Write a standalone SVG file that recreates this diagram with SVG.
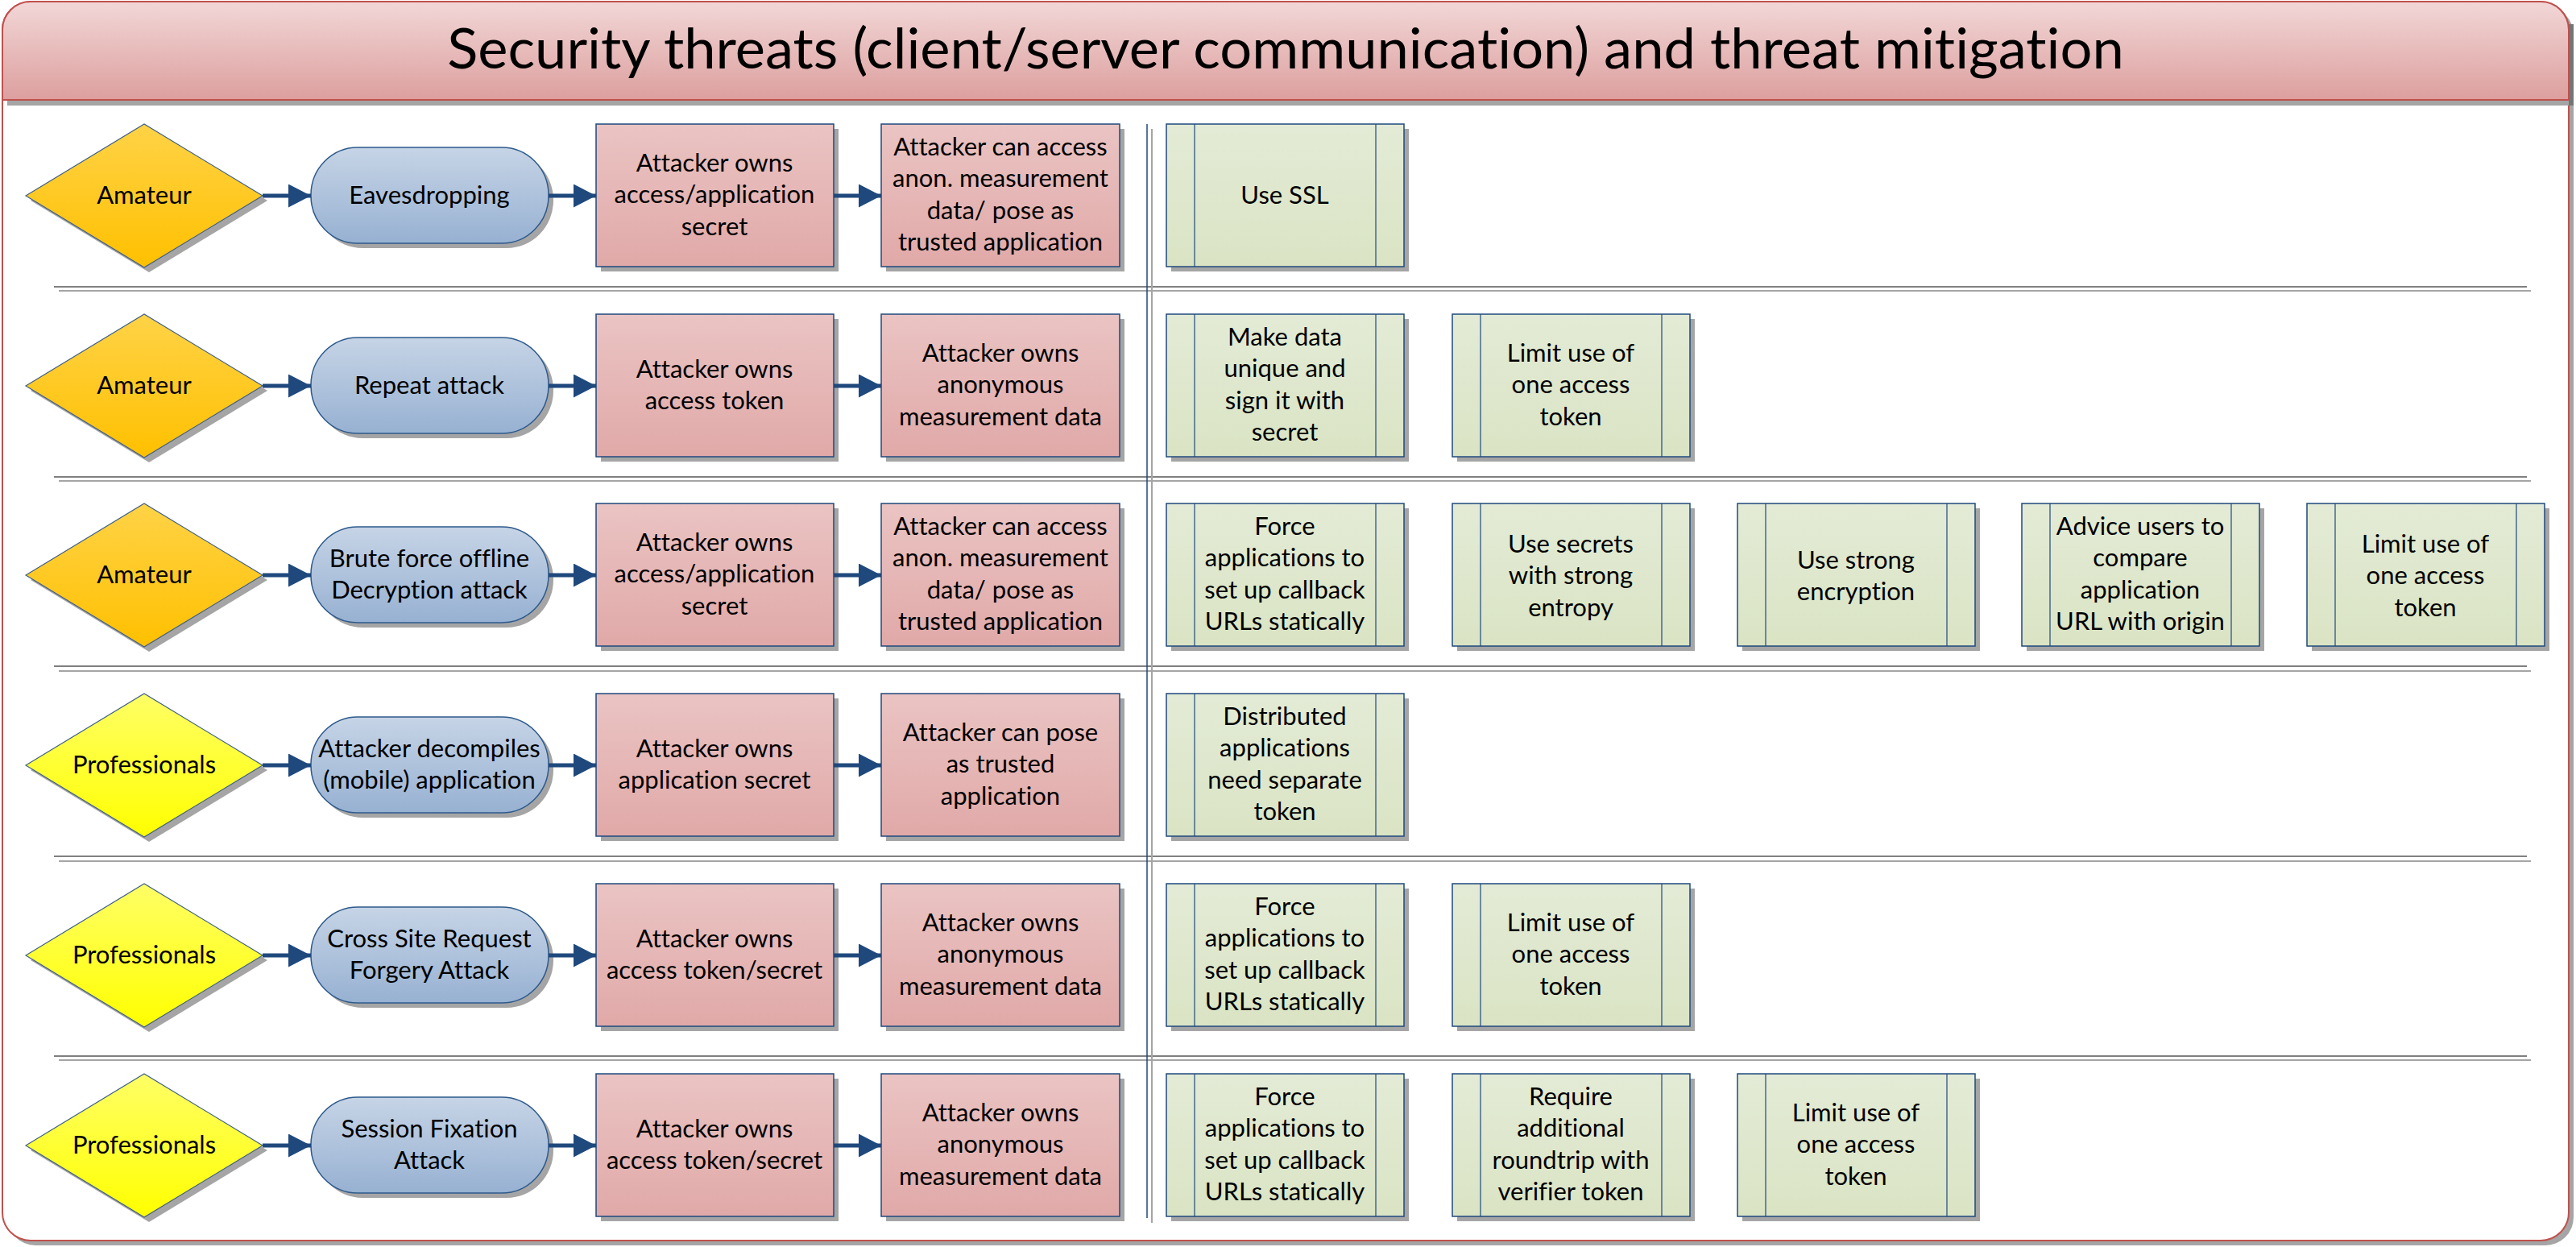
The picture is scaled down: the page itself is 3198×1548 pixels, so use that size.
<svg xmlns="http://www.w3.org/2000/svg" width="3198" height="1548" viewBox="0 0 3198 1548">
<defs>
<linearGradient id="gTitle" x1="0" y1="0" x2="0" y2="1"><stop offset="0" stop-color="#F2D7D7"/><stop offset="1" stop-color="#DC9F9E"/></linearGradient>
<linearGradient id="gAm" x1="0" y1="0" x2="0" y2="1"><stop offset="0" stop-color="#FFD347"/><stop offset="1" stop-color="#FFC000"/></linearGradient>
<linearGradient id="gPro" x1="0" y1="0" x2="0" y2="1"><stop offset="0" stop-color="#FFFF66"/><stop offset="1" stop-color="#FFFF00"/></linearGradient>
<linearGradient id="gTerm" x1="0" y1="0" x2="0" y2="1"><stop offset="0" stop-color="#C6D4E6"/><stop offset="1" stop-color="#97B1D2"/></linearGradient>
<linearGradient id="gPink" x1="0" y1="0" x2="0" y2="1"><stop offset="0" stop-color="#EAC4C3"/><stop offset="1" stop-color="#E0A9A8"/></linearGradient>
<linearGradient id="gGreen" x1="0" y1="0" x2="0" y2="1"><stop offset="0" stop-color="#E3EBD6"/><stop offset="1" stop-color="#DAE4C4"/></linearGradient>
<marker id="arr" markerUnits="userSpaceOnUse" markerWidth="30" markerHeight="30" refX="28" refY="14.5" orient="auto"><path d="M0,0 L28,14.5 L0,29 z" fill="#1F497D"/></marker>
<symbol id="green" overflow="visible">
<rect x="6" y="6" width="295" height="177" fill="#A5A5A5"/>
<rect x="0" y="0" width="295" height="177" fill="url(#gGreen)" stroke="#1F497D" stroke-width="1.5"/>
<line x1="35" y1="0" x2="35" y2="177" stroke="#1F497D" stroke-width="1.2"/>
<line x1="260" y1="0" x2="260" y2="177" stroke="#1F497D" stroke-width="1.2"/>
</symbol>
</defs>
<style>
.t{font-family:Lato,"Liberation Sans",sans-serif;font-size:31px;text-anchor:middle;fill:#000;font-variant-ligatures:none}
.title{font-family:Lato,"Liberation Sans",sans-serif;font-size:70.5px;text-anchor:middle;fill:#000;font-variant-ligatures:none}
.sh{fill:#A5A5A5}
.dAm{fill:url(#gAm);stroke:#3F5F8A;stroke-width:1.2}
.dPro{fill:url(#gPro);stroke:#3F5F8A;stroke-width:1.2}
.term{fill:url(#gTerm);stroke:#2E5A8C;stroke-width:1.5}
.pink{fill:url(#gPink);stroke:#1F497D;stroke-width:1.5}
.con{stroke:#1F497D;stroke-width:5;fill:none;marker-end:url(#arr)}
.sep1{stroke:#808080;stroke-width:2}
.sep2{stroke:#A5A5A5;stroke-width:2}
</style>

<!-- frame -->
<g id="frame">
<rect x="9" y="8" width="3186" height="1538" rx="35" ry="35" fill="#A5A5A5"/>
<rect x="3" y="2" width="3186" height="1538" rx="35" ry="35" fill="#FFFFFF" stroke="#C0504D" stroke-width="2"/>
<rect x="9" y="124" width="3186" height="7" fill="#A5A5A5"/>
<rect x="3189" y="30" width="6" height="101" fill="#757575"/>
<path d="M3,124 V37 A35,35 0 0 1 38,2 H3154 A35,35 0 0 1 3189,37 V124 Z" fill="url(#gTitle)" stroke="#C0504D" stroke-width="2"/>
<text class="title" x="1596" y="85">Security threats (client/server communication) and threat mitigation</text>
</g>

<!-- separators -->
<g id="separators">
<line class="sep1" x1="67" y1="356" x2="3137" y2="356"/><line class="sep2" x1="73" y1="361" x2="3142" y2="361"/>
<line class="sep1" x1="67" y1="592" x2="3137" y2="592"/><line class="sep2" x1="73" y1="597" x2="3142" y2="597"/>
<line class="sep1" x1="67" y1="827" x2="3137" y2="827"/><line class="sep2" x1="73" y1="833" x2="3142" y2="833"/>
<line class="sep1" x1="67" y1="1063" x2="3137" y2="1063"/><line class="sep2" x1="73" y1="1069" x2="3142" y2="1069"/>
<line class="sep1" x1="67" y1="1311" x2="3137" y2="1311"/><line class="sep2" x1="73" y1="1316" x2="3142" y2="1316"/>
<line x1="1430" y1="160" x2="1430" y2="1518" stroke="#A5A5A5" stroke-width="2"/>
<line x1="1424" y1="154" x2="1424" y2="1512" stroke="#1F497D" stroke-width="1.5"/>
</g>

<!-- Row 1 -->
<g id="r1-level"><polygon class="sh" points="38,249 185,160 332,249 185,338"/><polygon class="dAm" points="32,243 179,154 326,243 179,332"/><text class="t" x="179" y="253">Amateur</text></g>
<g id="r1-threat"><rect class="sh" x="392" y="189" width="295" height="119" rx="58" ry="59"/><rect class="term" x="386" y="183" width="295" height="119" rx="58" ry="59"/><text class="t" x="533" y="253">Eavesdropping</text></g>
<g id="r1-own"><rect class="sh" x="746" y="160" width="295" height="177"/><rect class="pink" x="740" y="154" width="295" height="177"/><text class="t" x="887" y="213">Attacker owns</text><text class="t" x="887" y="252">access/application</text><text class="t" x="887" y="292">secret</text></g>
<g id="r1-result"><rect class="sh" x="1100" y="160" width="296" height="177"/><rect class="pink" x="1094" y="154" width="296" height="177"/><text class="t" x="1242" y="193">Attacker can access</text><text class="t" x="1242" y="232">anon. measurement</text><text class="t" x="1242" y="272">data/ pose as</text><text class="t" x="1242" y="311">trusted application</text></g>
<g id="r1-m1"><use href="#green" x="1448" y="154"/><text class="t" x="1595" y="253">Use SSL</text></g>

<!-- Row 2 -->
<g id="r2-level"><polygon class="sh" points="38,485 185,396 332,485 185,574"/><polygon class="dAm" points="32,479 179,390 326,479 179,568"/><text class="t" x="179" y="489">Amateur</text></g>
<g id="r2-threat"><rect class="sh" x="392" y="425" width="295" height="119" rx="58" ry="59"/><rect class="term" x="386" y="419" width="295" height="119" rx="58" ry="59"/><text class="t" x="533" y="489">Repeat attack</text></g>
<g id="r2-own"><rect class="sh" x="746" y="396" width="295" height="177"/><rect class="pink" x="740" y="390" width="295" height="177"/><text class="t" x="887" y="469">Attacker owns</text><text class="t" x="887" y="508">access token</text></g>
<g id="r2-result"><rect class="sh" x="1100" y="396" width="296" height="177"/><rect class="pink" x="1094" y="390" width="296" height="177"/><text class="t" x="1242" y="449">Attacker owns</text><text class="t" x="1242" y="488">anonymous</text><text class="t" x="1242" y="528">measurement data</text></g>
<g id="r2-m1"><use href="#green" x="1448" y="390"/><text class="t" x="1595" y="429">Make data</text><text class="t" x="1595" y="468">unique and</text><text class="t" x="1595" y="508">sign it with</text><text class="t" x="1595" y="547">secret</text></g>
<g id="r2-m2"><use href="#green" x="1803" y="390"/><text class="t" x="1950" y="449">Limit use of</text><text class="t" x="1950" y="488">one access</text><text class="t" x="1950" y="528">token</text></g>

<!-- Row 3 -->
<g id="r3-level"><polygon class="sh" points="38,720 185,631 332,720 185,809"/><polygon class="dAm" points="32,714 179,625 326,714 179,803"/><text class="t" x="179" y="724">Amateur</text></g>
<g id="r3-threat"><rect class="sh" x="392" y="660" width="295" height="119" rx="58" ry="59"/><rect class="term" x="386" y="654" width="295" height="119" rx="58" ry="59"/><text class="t" x="533" y="704">Brute force offline</text><text class="t" x="533" y="743">Decryption attack</text></g>
<g id="r3-own"><rect class="sh" x="746" y="631" width="295" height="177"/><rect class="pink" x="740" y="625" width="295" height="177"/><text class="t" x="887" y="684">Attacker owns</text><text class="t" x="887" y="723">access/application</text><text class="t" x="887" y="763">secret</text></g>
<g id="r3-result"><rect class="sh" x="1100" y="631" width="296" height="177"/><rect class="pink" x="1094" y="625" width="296" height="177"/><text class="t" x="1242" y="664">Attacker can access</text><text class="t" x="1242" y="703">anon. measurement</text><text class="t" x="1242" y="743">data/ pose as</text><text class="t" x="1242" y="782">trusted application</text></g>
<g id="r3-m1"><use href="#green" x="1448" y="625"/><text class="t" x="1595" y="664">Force</text><text class="t" x="1595" y="703">applications to</text><text class="t" x="1595" y="743">set up callback</text><text class="t" x="1595" y="782">URLs statically</text></g>
<g id="r3-m2"><use href="#green" x="1803" y="625"/><text class="t" x="1950" y="686">Use secrets</text><text class="t" x="1950" y="725">with strong</text><text class="t" x="1950" y="765">entropy</text></g>
<g id="r3-m3"><use href="#green" x="2157" y="625"/><text class="t" x="2304" y="706">Use strong</text><text class="t" x="2304" y="745">encryption</text></g>
<g id="r3-m4"><use href="#green" x="2510" y="625"/><text class="t" x="2657" y="664">Advice users to</text><text class="t" x="2657" y="703">compare</text><text class="t" x="2657" y="743">application</text><text class="t" x="2657" y="782">URL with origin</text></g>
<g id="r3-m5"><use href="#green" x="2864" y="625"/><text class="t" x="3011" y="686">Limit use of</text><text class="t" x="3011" y="725">one access</text><text class="t" x="3011" y="765">token</text></g>

<!-- Row 4 -->
<g id="r4-level"><polygon class="sh" points="38,956 185,867 332,956 185,1045"/><polygon class="dPro" points="32,950 179,861 326,950 179,1039"/><text class="t" x="179" y="960">Professionals</text></g>
<g id="r4-threat"><rect class="sh" x="392" y="896" width="295" height="119" rx="58" ry="59"/><rect class="term" x="386" y="890" width="295" height="119" rx="58" ry="59"/><text class="t" x="533" y="940">Attacker decompiles</text><text class="t" x="533" y="979">(mobile) application</text></g>
<g id="r4-own"><rect class="sh" x="746" y="867" width="295" height="177"/><rect class="pink" x="740" y="861" width="295" height="177"/><text class="t" x="887" y="940">Attacker owns</text><text class="t" x="887" y="979">application secret</text></g>
<g id="r4-result"><rect class="sh" x="1100" y="867" width="296" height="177"/><rect class="pink" x="1094" y="861" width="296" height="177"/><text class="t" x="1242" y="920">Attacker can pose</text><text class="t" x="1242" y="959">as trusted</text><text class="t" x="1242" y="999">application</text></g>
<g id="r4-m1"><use href="#green" x="1448" y="861"/><text class="t" x="1595" y="900">Distributed</text><text class="t" x="1595" y="939">applications</text><text class="t" x="1595" y="979">need separate</text><text class="t" x="1595" y="1018">token</text></g>

<!-- Row 5 -->
<g id="r5-level"><polygon class="sh" points="38,1192 185,1103 332,1192 185,1281"/><polygon class="dPro" points="32,1186 179,1097 326,1186 179,1275"/><text class="t" x="179" y="1196">Professionals</text></g>
<g id="r5-threat"><rect class="sh" x="392" y="1132" width="295" height="119" rx="58" ry="59"/><rect class="term" x="386" y="1126" width="295" height="119" rx="58" ry="59"/><text class="t" x="533" y="1176">Cross Site Request</text><text class="t" x="533" y="1215">Forgery Attack</text></g>
<g id="r5-own"><rect class="sh" x="746" y="1103" width="295" height="177"/><rect class="pink" x="740" y="1097" width="295" height="177"/><text class="t" x="887" y="1176">Attacker owns</text><text class="t" x="887" y="1215">access token/secret</text></g>
<g id="r5-result"><rect class="sh" x="1100" y="1103" width="296" height="177"/><rect class="pink" x="1094" y="1097" width="296" height="177"/><text class="t" x="1242" y="1156">Attacker owns</text><text class="t" x="1242" y="1195">anonymous</text><text class="t" x="1242" y="1235">measurement data</text></g>
<g id="r5-m1"><use href="#green" x="1448" y="1097"/><text class="t" x="1595" y="1136">Force</text><text class="t" x="1595" y="1175">applications to</text><text class="t" x="1595" y="1215">set up callback</text><text class="t" x="1595" y="1254">URLs statically</text></g>
<g id="r5-m2"><use href="#green" x="1803" y="1097"/><text class="t" x="1950" y="1156">Limit use of</text><text class="t" x="1950" y="1195">one access</text><text class="t" x="1950" y="1235">token</text></g>

<!-- Row 6 -->
<g id="r6-level"><polygon class="sh" points="38,1428 185,1339 332,1428 185,1517"/><polygon class="dPro" points="32,1422 179,1333 326,1422 179,1511"/><text class="t" x="179" y="1432">Professionals</text></g>
<g id="r6-threat"><rect class="sh" x="392" y="1368" width="295" height="119" rx="58" ry="59"/><rect class="term" x="386" y="1362" width="295" height="119" rx="58" ry="59"/><text class="t" x="533" y="1412">Session Fixation</text><text class="t" x="533" y="1451">Attack</text></g>
<g id="r6-own"><rect class="sh" x="746" y="1339" width="295" height="177"/><rect class="pink" x="740" y="1333" width="295" height="177"/><text class="t" x="887" y="1412">Attacker owns</text><text class="t" x="887" y="1451">access token/secret</text></g>
<g id="r6-result"><rect class="sh" x="1100" y="1339" width="296" height="177"/><rect class="pink" x="1094" y="1333" width="296" height="177"/><text class="t" x="1242" y="1392">Attacker owns</text><text class="t" x="1242" y="1431">anonymous</text><text class="t" x="1242" y="1471">measurement data</text></g>
<g id="r6-m1"><use href="#green" x="1448" y="1333"/><text class="t" x="1595" y="1372">Force</text><text class="t" x="1595" y="1411">applications to</text><text class="t" x="1595" y="1451">set up callback</text><text class="t" x="1595" y="1490">URLs statically</text></g>
<g id="r6-m2"><use href="#green" x="1803" y="1333"/><text class="t" x="1950" y="1372">Require</text><text class="t" x="1950" y="1411">additional</text><text class="t" x="1950" y="1451">roundtrip with</text><text class="t" x="1950" y="1490">verifier token</text></g>
<g id="r6-m3"><use href="#green" x="2157" y="1333"/><text class="t" x="2304" y="1392">Limit use of</text><text class="t" x="2304" y="1431">one access</text><text class="t" x="2304" y="1471">token</text></g>

<!-- connectors -->
<g id="connectors">
<line class="con" x1="326" y1="243" x2="386" y2="243"/><line class="con" x1="681" y1="243" x2="740" y2="243"/><line class="con" x1="1035" y1="243" x2="1094" y2="243"/>
<line class="con" x1="326" y1="479" x2="386" y2="479"/><line class="con" x1="681" y1="479" x2="740" y2="479"/><line class="con" x1="1035" y1="479" x2="1094" y2="479"/>
<line class="con" x1="326" y1="714" x2="386" y2="714"/><line class="con" x1="681" y1="714" x2="740" y2="714"/><line class="con" x1="1035" y1="714" x2="1094" y2="714"/>
<line class="con" x1="326" y1="950" x2="386" y2="950"/><line class="con" x1="681" y1="950" x2="740" y2="950"/><line class="con" x1="1035" y1="950" x2="1094" y2="950"/>
<line class="con" x1="326" y1="1186" x2="386" y2="1186"/><line class="con" x1="681" y1="1186" x2="740" y2="1186"/><line class="con" x1="1035" y1="1186" x2="1094" y2="1186"/>
<line class="con" x1="326" y1="1422" x2="386" y2="1422"/><line class="con" x1="681" y1="1422" x2="740" y2="1422"/><line class="con" x1="1035" y1="1422" x2="1094" y2="1422"/>
</g>
</svg>
